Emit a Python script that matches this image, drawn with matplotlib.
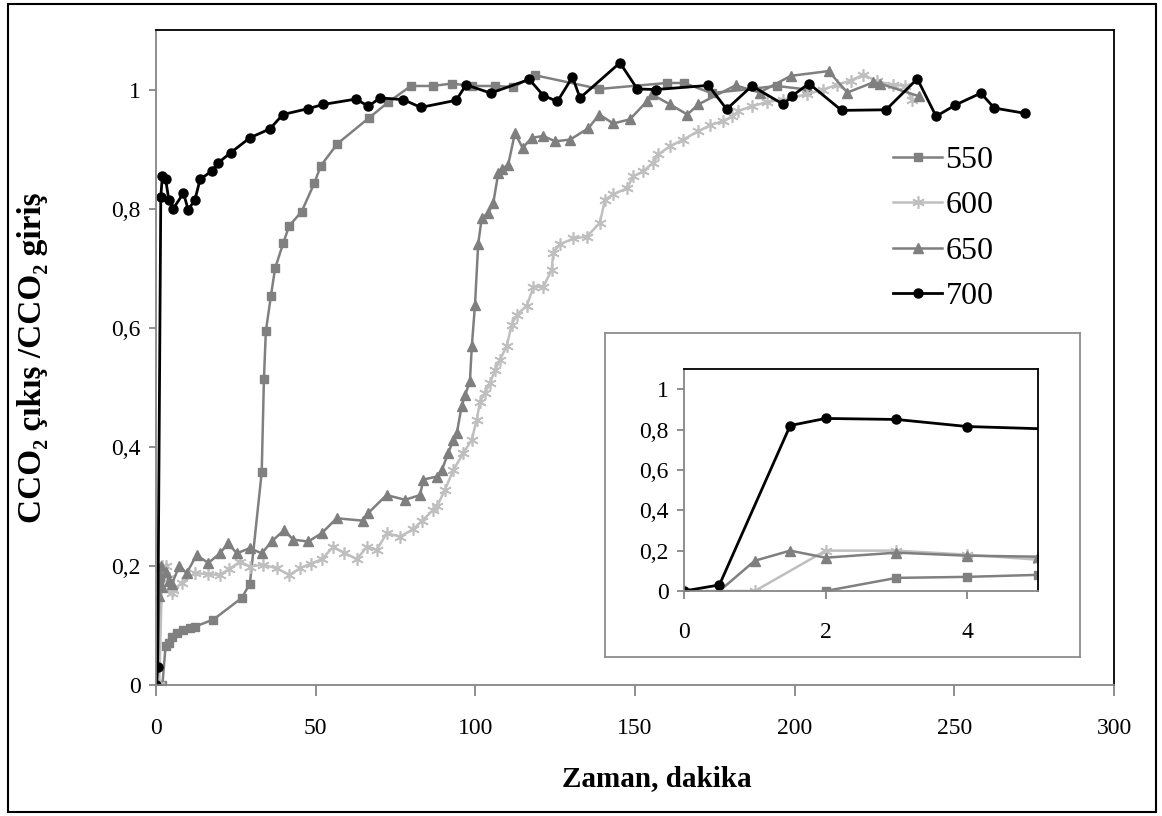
import matplotlib
matplotlib.use("Agg")
import matplotlib.pyplot as plt
from matplotlib.patches import Rectangle
from matplotlib.ticker import FuncFormatter

plt.rcParams['font.family'] = ['Liberation Serif', 'DejaVu Serif']

# data (time in minutes, CCO2 out / CCO2 in)
t550 = [2, 3, 4, 5, 6.5, 8.6, 10.6, 12.2, 18, 26.8, 29.4, 33.1, 33.8, 34.4, 36, 37.3, 39.9, 41.7,
        45.6, 49.6, 51.6, 56.8, 66.6, 72.8, 79.8, 86.6, 92.6, 99, 106.2, 111.9, 118.7, 138.8,
        159.9, 165.4, 174, 194.4, 204]
y550 = [0, 0.065, 0.07, 0.08, 0.087, 0.092, 0.095, 0.098, 0.11, 0.146, 0.17, 0.357, 0.514, 0.594,
        0.654, 0.70, 0.743, 0.771, 0.795, 0.843, 0.872, 0.909, 0.952, 0.979, 1.006, 1.006, 1.01,
        1.006, 1.006, 1.004, 1.024, 1.001, 1.011, 1.011, 0.994, 1.006, 1.0]

t600 = [0, 1, 2, 3, 4, 5, 5.4, 8, 12.2, 16.4, 20, 23, 26.3, 29.4, 33.6, 37.8, 41.8, 45.1, 48.5, 51.9,
        55.5, 59, 62.9, 66, 69.1, 72.3, 76.4, 80.6, 83.2, 86.8, 88, 90.5, 93.1, 96.2, 98.9, 100.4,
        101.5, 103, 104.6, 106.2, 107.7, 109.8, 111.4, 113, 116.1, 118.2, 121.3, 123.9, 124.4,
        126.5, 130.7, 134.9, 139, 140.6, 143.2, 147.4, 149.5, 152.6, 155.7, 157.3, 161, 165.1,
        169.8, 173.5, 177.5, 180.5, 182.4, 186.6, 191.3, 196.5, 203.8, 209, 213.2, 217.5, 221.5,
        225.7, 230.9, 234.6, 236.7]
y600 = [0, 0, 0.2, 0.2, 0.18, 0.155, 0.16, 0.171, 0.188, 0.186, 0.185, 0.195, 0.207, 0.199, 0.202,
        0.196, 0.185, 0.196, 0.204, 0.211, 0.232, 0.222, 0.211, 0.232, 0.227, 0.255, 0.249, 0.262,
        0.275, 0.294, 0.3, 0.328, 0.361, 0.389, 0.412, 0.445, 0.476, 0.49, 0.507, 0.529, 0.546,
        0.569, 0.605, 0.622, 0.637, 0.668, 0.669, 0.697, 0.726, 0.74, 0.75, 0.753, 0.776, 0.815,
        0.824, 0.834, 0.854, 0.863, 0.877, 0.891, 0.905, 0.916, 0.93, 0.94, 0.947, 0.955, 0.964,
        0.972, 0.979, 0.983, 0.992, 1.0, 1.008, 1.015, 1.025, 1.014, 1.008, 1.006, 0.983]

t650 = [0.5, 1, 1.5, 2, 3, 4, 5, 7.3, 9.6, 12.7, 16.4, 20, 22.6, 25.3, 29.4, 33.1, 36.2, 40.1, 43,
        47.7, 51.9, 56.6, 64.7, 66.5, 72.2, 78, 82.7, 83.7, 87.9, 89.5, 91.5, 93.1, 94.2, 95.7,
        96.8, 98.3, 98.9, 99.9, 100.9, 102, 104.1, 105.6, 107.2, 108.5, 110.3, 112.4, 114.8, 117.7,
        121.3, 125, 129.7, 135.4, 138.8, 143.2, 148.4, 153.7, 155.2, 161, 166.4, 169.8, 181.5, 189,
        198.8, 210.6, 216.5, 224.6, 226.7, 238.8]
y650 = [0, 0.15, 0.2, 0.165, 0.19, 0.175, 0.17, 0.2, 0.188, 0.218, 0.205, 0.221, 0.238, 0.221,
        0.23, 0.221, 0.241, 0.26, 0.244, 0.241, 0.255, 0.28, 0.276, 0.289, 0.319, 0.311, 0.319,
        0.345, 0.35, 0.361, 0.389, 0.412, 0.423, 0.468, 0.487, 0.51, 0.569, 0.639, 0.741, 0.784,
        0.793, 0.809, 0.86, 0.867, 0.874, 0.927, 0.902, 0.919, 0.922, 0.913, 0.916, 0.935, 0.958,
        0.943, 0.95, 0.98, 0.992, 0.975, 0.958, 0.975, 1.007, 0.995, 1.023, 1.031, 0.995, 1.012,
        1.01, 0.989]

t700 = [0, 0.5, 1.5, 2, 3, 4, 5.4, 8.6, 10.1, 12.2, 13.8, 17.4, 19.5, 23.4, 29.4, 35.7, 39.7, 47.7,
        52.4, 62.6, 66.5, 70.2, 77.5, 82.9, 94, 97.1, 104.8, 116.9, 121.3, 125.7, 130.4, 132.8,
        145.3, 150.7, 156.6, 173, 178.7, 186.6, 196.5, 199.1, 204.5, 214.7, 228.6, 238.4, 244.3,
        250.3, 258.3, 262.5, 272.2]
y700 = [0, 0.03, 0.82, 0.855, 0.85, 0.815, 0.80, 0.826, 0.798, 0.815, 0.849, 0.863, 0.877, 0.894,
        0.919, 0.934, 0.958, 0.968, 0.975, 0.984, 0.972, 0.986, 0.983, 0.97, 0.982, 1.008, 0.994,
        1.017, 0.99, 0.98, 1.021, 0.986, 1.045, 1.001, 1.0, 1.007, 0.967, 1.006, 0.975, 0.989,
        1.01, 0.965, 0.966, 1.018, 0.955, 0.974, 0.994, 0.969, 0.96]

labels = ['550', '600', '650', '700']
yticks = [0, 0.2, 0.4, 0.6, 0.8, 1]

star = (6, 2, 0)
series = [
    (t550, y550, dict(color='#808080', marker='s', ms=6, lw=1.8)),
    (t600, y600, dict(color='#bfbfbf', marker=star, ms=9, mew=1.2, lw=1.8)),
    (t650, y650, dict(color='#7f7f7f', marker='^', ms=7.5, lw=1.8)),
    (t700, y700, dict(color='black', marker='o', ms=6.5, lw=2)),
]

comma = FuncFormatter(lambda v, p: ('%g' % v).replace('.', ','))

W, H = 1162, 816
fig = plt.figure(figsize=(W / 100, H / 100), dpi=100)


def box(x0, y0, x1, y1):
    # pixel box (top-left origin) -> figure fraction rect
    return [x0 / W, 1 - y1 / H, (x1 - x0) / W, (y1 - y0) / H]


def style(ax, fs):
    for s in ['left', 'bottom']:
        ax.spines[s].set_color('#868686')
        ax.spines[s].set_linewidth(1.3)
    for s in ['top', 'right']:
        ax.spines[s].set_color('black')
        ax.spines[s].set_linewidth(1.3)
    ax.tick_params(axis='both', colors='#868686', labelcolor='black', labelsize=fs,
                   direction='out', width=1.3)
    ax.yaxis.set_major_formatter(comma)
    ax.set_yticks(yticks)


# main chart
ax = fig.add_axes(box(156, 30, 1114, 685))
for (t, y, kw), lab in zip(series, labels):
    ax.plot(t, y, label=lab, **kw)
ax.set_xlim(0, 300)
ax.set_ylim(0, 1.1)
ax.set_xticks([0, 50, 100, 150, 200, 250, 300])
style(ax, 17)
ax.tick_params(axis='x', length=8, pad=16)
ax.tick_params(axis='y', length=5, pad=6)
ax.set_xlabel('Zaman, dakika', fontsize=21, fontweight='bold')
ax.xaxis.set_label_coords((657 - 156) / 958, -0.122)
ax.set_ylabel('CCO₂ çıkış /CCO₂ giriş', fontsize=24, fontweight='bold')
ax.yaxis.set_label_coords((48 - 156) / 958, 0.5)
ax.legend(loc='upper left', bbox_to_anchor=(864 / W, 1 - 117 / H), bbox_transform=fig.transFigure,
          frameon=False, fontsize=23, handlelength=1.55, handletextpad=0.1, labelspacing=0.5)

# inset frame and inset chart
frame = fig.add_axes(box(605, 333, 1080, 657))
frame.set_xticks([])
frame.set_yticks([])
for s in frame.spines.values():
    s.set_color('#8c8c8c')
    s.set_linewidth(1.3)

ins = fig.add_axes(box(684, 369, 1038, 591))
for (t, y, kw), lab in zip(series, labels):
    ins.plot(t, y, clip_on=True, **kw)
ins.set_xlim(0, 5)
ins.set_ylim(0, 1.1)
ins.set_xticks([0, 2, 4])
style(ins, 17)
ins.tick_params(axis='x', length=6, pad=16)
ins.tick_params(axis='y', length=5, pad=6)

# outer border of the picture
fig.add_artist(Rectangle((8 / W, 4 / H), 1148 / W, 808 / H, transform=fig.transFigure,
                         fill=False, edgecolor='black', lw=1.5))

fig.savefig('out.png', dpi=100)
